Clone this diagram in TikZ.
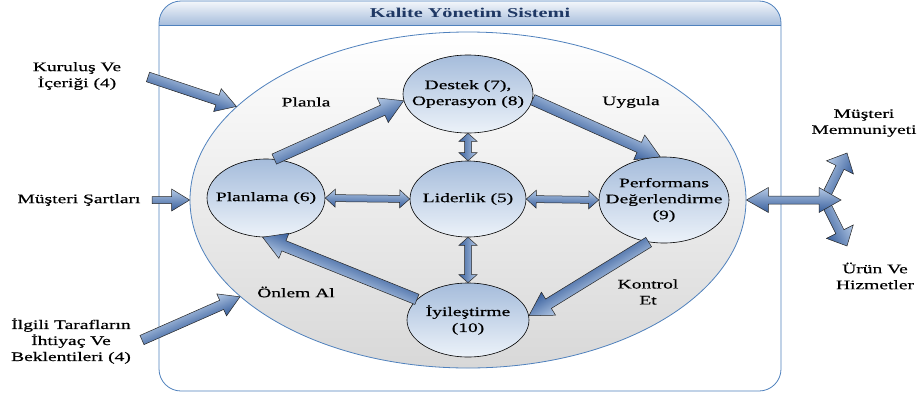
\documentclass[tikz,border=0pt]{standalone}
\usepackage{fontspec}
\setmainfont{Liberation Serif}[FakeStretch=1.5, UprightFeatures={FakeBold=0.5}]
\usetikzlibrary{calc,shapes.geometric}

\definecolor{bordblue}{RGB}{79,129,189}
\definecolor{hdtop}{RGB}{244,247,251}
\definecolor{hdbot}{RGB}{166,189,220}
\definecolor{titleblue}{RGB}{31,56,100}
\definecolor{elltop}{RGB}{165,188,219}
\definecolor{ellbot}{RGB}{236,242,249}
\definecolor{arrlight}{RGB}{180,201,229}
\definecolor{arrdark}{RGB}{55,94,156}
\definecolor{biggray}{RGB}{216,216,216}

\tikzset{
 lbl/.style={font=\fontsize{13}{16}\selectfont, align=center, inner sep=0pt},
 stage/.style={ellipse, draw=black, line width=0.6pt, top color=elltop, bottom color=ellbot, inner sep=0pt},
 arrowbody/.style={draw=black!85, line width=0.5pt, top color=arrlight, bottom color=arrdark, line join=miter},
}

\newdimen\baX \newdimen\baY
% single block arrow: start, end, shaft half width, head half width, head length
\newcommand\blockarrow[5]{%
  \path (#1) coordinate (ba-s) (#2) coordinate (ba-e);
  \pgfmathanglebetweenpoints{\pgfpointanchor{ba-s}{center}}{\pgfpointanchor{ba-e}{center}}%
  \let\baAng\pgfmathresult
  \pgfextractx{\baX}{\pgfpointdiff{\pgfpointanchor{ba-s}{center}}{\pgfpointanchor{ba-e}{center}}}%
  \pgfextracty{\baY}{\pgfpointdiff{\pgfpointanchor{ba-s}{center}}{\pgfpointanchor{ba-e}{center}}}%
  \pgfmathsetmacro\baLen{veclen(\baX,\baY)}%
  \begin{scope}[transform canvas={shift={(ba-s)},rotate=\baAng}]
    \path[arrowbody] (0pt,#3) -- ({\baLen pt-#5},#3) -- ({\baLen pt-#5},#4) -- (\baLen pt,0pt)
      -- ({\baLen pt-#5},-#4) -- ({\baLen pt-#5},-#3) -- (0pt,-#3) -- cycle;
  \end{scope}
}
% double block arrow
\newcommand\dblarrow[5]{%
  \path (#1) coordinate (ba-s) (#2) coordinate (ba-e);
  \pgfmathanglebetweenpoints{\pgfpointanchor{ba-s}{center}}{\pgfpointanchor{ba-e}{center}}%
  \let\baAng\pgfmathresult
  \pgfextractx{\baX}{\pgfpointdiff{\pgfpointanchor{ba-s}{center}}{\pgfpointanchor{ba-e}{center}}}%
  \pgfextracty{\baY}{\pgfpointdiff{\pgfpointanchor{ba-s}{center}}{\pgfpointanchor{ba-e}{center}}}%
  \pgfmathsetmacro\baLen{veclen(\baX,\baY)}%
  \begin{scope}[transform canvas={shift={(ba-s)},rotate=\baAng}]
    \path[arrowbody] (0pt,0pt) -- (#5,#4) -- (#5,#3) -- ({\baLen pt-#5},#3) -- ({\baLen pt-#5},#4)
      -- (\baLen pt,0pt) -- ({\baLen pt-#5},-#4) -- ({\baLen pt-#5},-#3) -- (#5,-#3) -- (#5,-#4) -- cycle;
  \end{scope}
}

\begin{document}
\begin{tikzpicture}[x=1pt,y=-1pt]
\useasboundingbox (0,0) rectangle (920,394);

% outer box
\node[fill=white, rounded corners=22pt, minimum width=622pt, minimum height=390pt, inner sep=0pt] (kbox) at (470,196) {};
\begin{scope}
  \clip[rounded corners=22pt] (159,1) rectangle (781,391);
  \path[top color=hdtop, bottom color=hdbot] (159,1) rectangle (781,25);
\end{scope}
\draw[bordblue, line width=0.8pt] (159,25) -- (781,25);
\draw[bordblue, line width=0.8pt, rounded corners=22pt] (159,1) rectangle (781,391);
\node[font=\bfseries\fontsize{13.5}{16}\selectfont, text=titleblue, inner sep=0pt] (ttl) at (470,13) {Kalite Yönetim Sistemi};

% big ellipse
\node[ellipse, draw=bordblue, line width=0.8pt, top color=white, bottom color=biggray,
      minimum width=556pt, minimum height=336pt, inner sep=0pt] (kms) at (468,200) {};

% stages
\node[stage, minimum width=130pt, minimum height=78pt, label={[lbl]center:{Destek (7),\\Operasyon (8)}}] (dest) at (468,94) {};
\node[stage, minimum width=116pt, minimum height=76pt, label={[lbl]center:{Liderlik (5)}}] (lid) at (468,199) {};
\node[stage, minimum width=118pt, minimum height=78pt, label={[lbl]center:{Planlama (6)}}] (plan) at (266,198) {};
\node[stage, minimum width=130pt, minimum height=86pt, label={[lbl]center:{Performans\\Değerlendirme\\(9)}}] (perf) at (664,200) {};
\node[stage, minimum width=122pt, minimum height=74pt, label={[lbl]center:{İyileştirme\\(10)}}] (iyi) at (468,320) {};

% cycle arrows
\blockarrow{plan.78}{dest.186}{5.5pt}{13.5pt}{23pt}
\blockarrow{dest.-5}{perf.95}{5.5pt}{13.5pt}{23pt}
\blockarrow{perf.250}{iyi.4}{5.5pt}{13.5pt}{23pt}
\blockarrow{iyi.158}{plan.265}{5.5pt}{13.5pt}{23pt}

% double arrows
\dblarrow{dest.south}{lid.north}{3.5pt}{9pt}{8pt}
\dblarrow{lid.south}{iyi.north}{3.5pt}{9pt}{8pt}
\dblarrow{plan.east}{lid.west}{3.5pt}{9pt}{10pt}
\dblarrow{lid.east}{perf.west}{3.5pt}{9pt}{10pt}

% external inputs
\coordinate (kurT) at (148,77);
\coordinate (musT) at (152,200);
\coordinate (ilgT) at (142,340);
\blockarrow{kurT}{kms.158}{5pt}{12pt}{20pt}
\blockarrow{musT}{kms.west}{3.5pt}{11pt}{18pt}
\blockarrow{ilgT}{kms.203}{5pt}{12pt}{20pt}

% outputs
\coordinate (bj) at (824,200);
\coordinate (bu) at (847,153);
\coordinate (bd) at (847,246);
\coordinate (rj) at (841,200);
\blockarrow{bj}{bu}{4.5pt}{15pt}{16pt}
\blockarrow{bj}{bd}{4.5pt}{15pt}{16pt}
\dblarrow{kms.east}{rj}{4pt}{12.5pt}{22pt}

% labels
\node[lbl] (planla) at (306,102) {Planla};
\node[lbl] (uygula) at (631,102) {Uygula};
\node[lbl] (onlem) at (296,292) {Önlem Al};
\node[lbl] (kontrol) at (648,292) {Kontrol\\Et};
\node[lbl] (kurulus) at (77,76) {Kuruluş Ve\\İçeriği (4)};
\node[lbl] (musteri) at (79,200) {Müşteri Şartları};
\node[lbl] (ilgili) at (71,341) {İlgili Tarafların\\İhtiyaç Ve\\Beklentileri (4)};
\node[lbl] (memnun) at (864,123) {Müşteri\\Memnuniyeti};
\node[lbl] (urun) at (875,276) {Ürün Ve\\Hizmetler};
\end{tikzpicture}
\end{document}
